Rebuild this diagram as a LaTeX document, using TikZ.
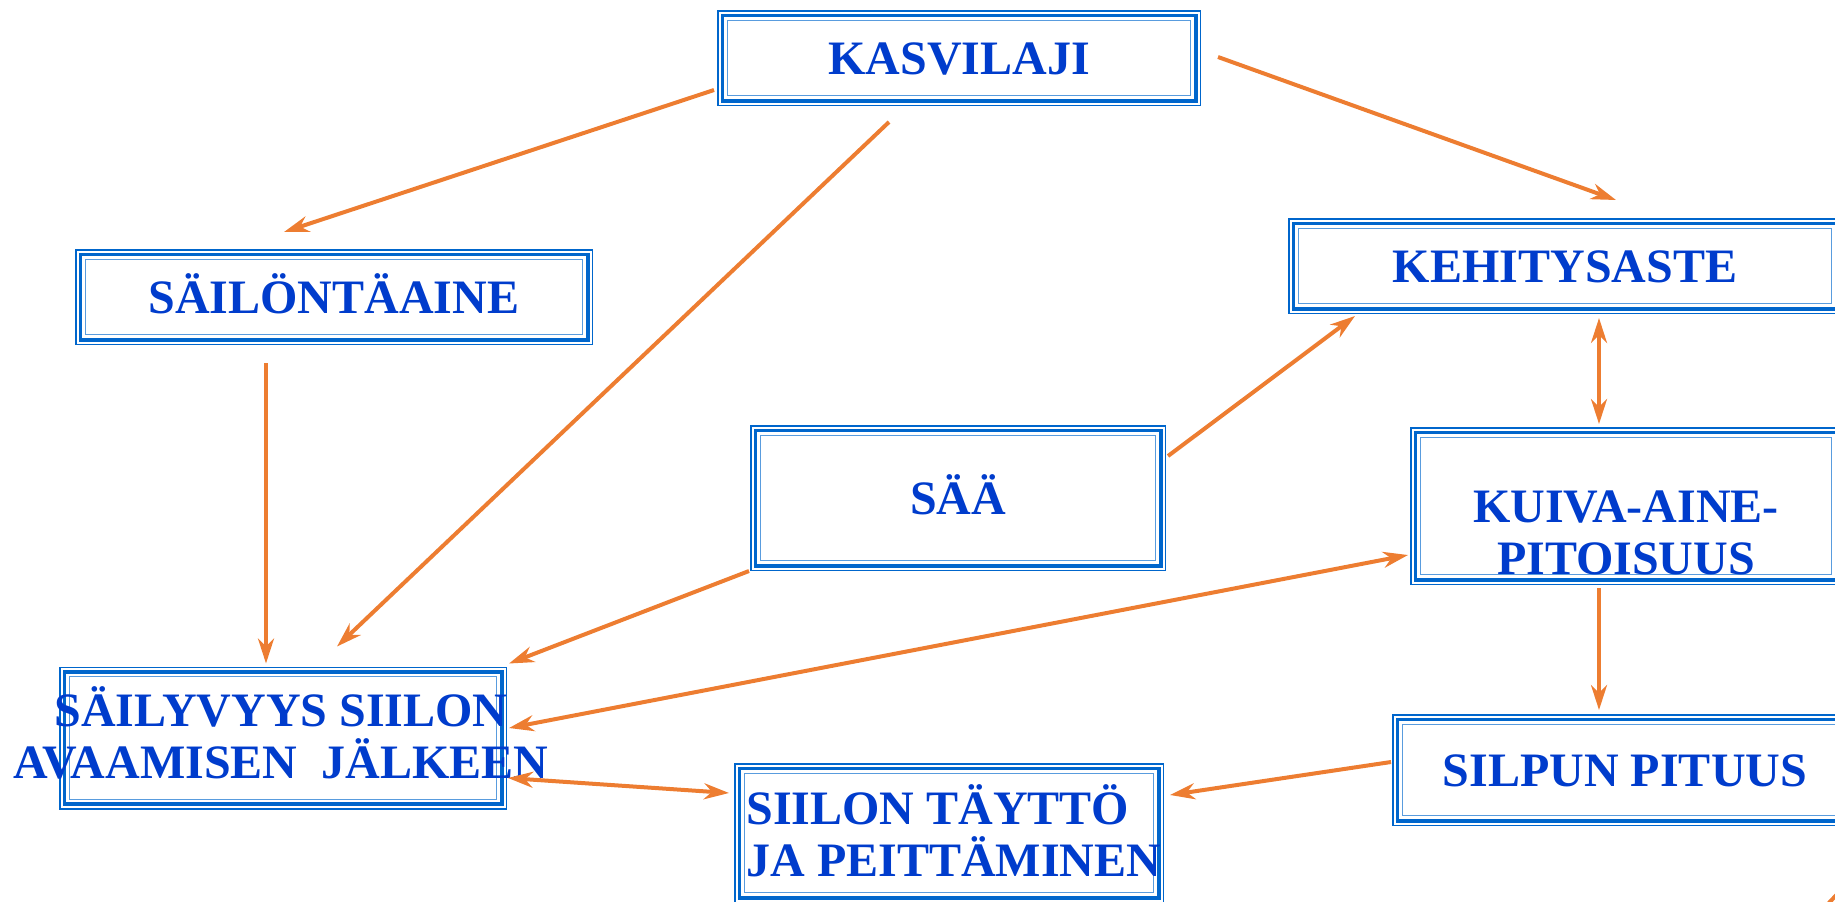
\documentclass[tikz,border=0pt]{standalone}
\usepackage{fontspec}
\setmainfont{Liberation Serif}
\usetikzlibrary{arrows.meta}

\definecolor{frameblue}{RGB}{0,102,204}
\definecolor{textblue}{RGB}{0,60,204}
\definecolor{arroworange}{RGB}{237,125,49}

\newcommand{\boxfont}{\fontsize{24pt}{26pt}\selectfont\bfseries}

\tikzset{
    framebox/.style={draw=frameblue, line width=0.75pt, rectangle, inner sep=0pt,
        text=textblue, font=\boxfont, text height=16.3pt, text depth=0pt,
        append after command={\pgfextra{
            \draw[frameblue, line width=1.9pt] ([shift={(2.7pt,2.7pt)}]\tikzlastnode.south west) rectangle ([shift={(-2.7pt,-2.7pt)}]\tikzlastnode.north east);
            \draw[frameblue!65, line width=0.55pt] ([shift={(5.15pt,5.15pt)}]\tikzlastnode.south west) rectangle ([shift={(-5.15pt,-5.15pt)}]\tikzlastnode.north east);}}},
    boxtext/.style={text=textblue, font=\boxfont, inner sep=0pt},
    link/.style={draw=arroworange, line width=2pt, -{Stealth[length=12.5pt,width=8pt,inset=4pt]}},
    twolink/.style={link, {Stealth[length=12.5pt,width=8pt,inset=4pt]}-{Stealth[length=12.5pt,width=8pt,inset=4pt]}},
}

\begin{document}
\begin{tikzpicture}[x=0.5pt, y=-0.5pt]
    \useasboundingbox (0,0) rectangle (1835,901);
    \clip (0,0) rectangle (1835,901);
    % laatikot
    \node[framebox, minimum width=241.25pt, minimum height=47.25pt] (kasvilaji) at (959,58) {KASVILAJI};
    \node[framebox, minimum width=258.25pt, minimum height=47.25pt] (sailonta) at (334,297) {SÄILÖNTÄAINE};
    \node[framebox, minimum width=276.25pt, minimum height=47.25pt] (kehitys) at (1565,266) {KEHITYSASTE};
    \node[framebox, minimum width=207.25pt, minimum height=72.25pt] (saa) at (958,498) {SÄÄ};
    \node[framebox, minimum width=215.25pt, minimum height=78.25pt] (kuiva) at (1626,506) {};
    \node[boxtext, anchor=base, align=center] (kuivateksti) at ([shift={(0,147)}]kuiva.north) {KUIVA-AINE-\\PITOISUUS};
    \node[framebox, minimum width=223.25pt, minimum height=70.75pt] (sailyvyys) at (283,738) {};
    \node[boxtext, anchor=base, align=center] (sailyvyysteksti) at ([shift={(-2,112)}]sailyvyys.north) {SÄILYVYYS SIILON\\AVAAMISEN\ \ JÄLKEEN};
    \node[framebox, minimum width=214.25pt, minimum height=69.25pt] (siilon) at (949,833) {};
    \node[boxtext, anchor=base west, align=left] (siilonteksti) at ([shift={(12,113)}]siilon.north west) {SIILON TÄYTTÖ\\JA PEITTÄMINEN};
    \node[framebox, minimum width=232.25pt, minimum height=55.25pt] (silpun) at (1625,770) {SILPUN PITUUS};
    % nuolet
    \draw[link] ([shift={(-3,32)}]kasvilaji.west) -- ([shift={(-50,-17)}]sailonta.north);
    \draw[link] ([shift={(-70,16)}]kasvilaji.south) -- ([shift={(54,-20)}]sailyvyys.north);
    \draw[link] ([shift={(17,-1)}]kasvilaji.east) -- ([shift={(51,-18)}]kehitys.north);
    \draw[link] ([shift={(-68,18)}]sailonta.south) -- ([shift={(-17,-3)}]sailyvyys.north);
    \draw[link] ([shift={(2,-42)}]saa.east) -- ([shift={(-210,2)}]kehitys.south);
    \draw[twolink] ([shift={(34,4)}]kehitys.south) -- ([shift={(-27,-3)}]kuiva.north);
    \draw[link] ([shift={(-1,0)}]saa.south west) -- ([shift={(2,-3)}]sailyvyys.north east);
    \draw[twolink] ([shift={(2,-10)}]sailyvyys.east) -- ([shift={(-2,49)}]kuiva.west);
    \draw[link] ([shift={(-27,3)}]kuiva.south) -- ([shift={(-26,-4)}]silpun.north);
    \draw[link] ([shift={(-1,-8)}]silpun.west) -- ([shift={(6,-38)}]siilon.east);
    \draw[twolink] ([shift={(1,40)}]sailyvyys.east) -- ([shift={(-5,-40)}]siilon.west);
    %\draw[link] ...
    \coordinate (reuna1) at (1826,906);
    \coordinate (reuna2) at (1842,889);
    \draw[draw=arroworange, line width=2pt] (reuna1) -- (reuna2);
\end{tikzpicture}
\end{document}
